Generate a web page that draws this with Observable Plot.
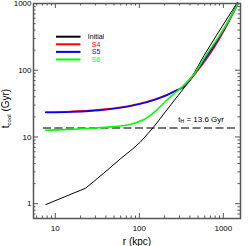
<!DOCTYPE html>
<html><head>
<meta charset="utf-8">
<script src="https://cdn.jsdelivr.net/npm/d3@7"></script>
<script src="https://cdn.jsdelivr.net/npm/@observablehq/plot@0.6"></script>
<style>
body{margin:0;background:#fff;}
svg{font-family:"Liberation Sans",Arial,Helvetica,sans-serif;}
</style>
</head><body><div id="c"></div>
<script>
// ---- data ----
const seriesNames  = ["Initial", "S4", "S5", "S6"];
const seriesColors = ["#000000", "#ff0000", "#0000ff", "#00ff00"];

const rInitial = [7.7, 23, 37.5, 60, 82, 103, 147, 200, 290, 400, 590, 830, 1100, 1470];
const tInitial = [0.97, 1.71, 2.85, 4.75, 6.5, 8.4, 13.9, 23, 42, 70, 167, 335, 585, 1040];

const rS4 = [7.7, 15, 25, 40, 60, 85, 120, 160, 213, 270, 334, 450, 674, 900, 1200, 1500];
const tS4 = [23.6, 24.1, 24.8, 26.1, 27.9, 30.2, 33.3, 37.3, 42.8, 49.5, 56, 85, 167, 299, 578, 1000];

const rS5 = [7.7, 15, 25, 40, 60, 85, 120, 160, 213, 270, 334, 450, 647, 900, 1200, 1480];
const tS5 = [23.2, 23.7, 24.4, 25.6, 27.4, 29.7, 32.8, 36.8, 42.3, 49.2, 56.3, 88, 167, 320, 600, 1000];

const rS6 = [7.7, 15, 30, 50, 70, 85, 100, 120, 140, 160, 192, 230, 279, 350, 450, 621, 900, 1200, 1490];
const tS6 = [12.6, 13.0, 13.6, 14.3, 15.0, 15.9, 17.0, 19.0, 21.8, 25, 31.5, 39, 48, 62, 88, 167, 330, 600, 1000];

const tHubble = 13.6;
const xTickValues = [10, 100, 1000];
const yTickValues = [1, 10, 100, 1000];
const xDomain = [5.5, 1600];
const yDomain = [0.6, 1000];

// ---- build table ----
const seriesR = [rInitial, rS4, rS5, rS6];
const seriesT = [tInitial, tS4, tS5, tS6];
const rows = [];
seriesNames.forEach((s, i) => seriesR[i].forEach((r, j) => rows.push({series: s, r, t: seriesT[i][j]})));

function minorTicks(domain) {
  const out = [];
  for (let e = -1; e <= 3; e++) for (let k = 2; k <= 9; k++) {
    const v = k * Math.pow(10, e);
    if (v > domain[0] && v < domain[1]) out.push(v);
  }
  return out;
}
const xMinor = minorTicks(xDomain), yMinor = minorTicks(yDomain);

const W = 249, H = 246, mL = 33, mR = 9, mT = 3, mB = 28;
const pw = W - mL - mR, ph = H - mT - mB;
const axisCol = "#555";
const majLen = 5, minLen = 2.5;

const lineMarks = seriesNames.map((s, i) => Plot.line(rows.filter(d => d.series === s), {
  x: "r", y: "t", stroke: seriesColors[i], strokeWidth: i === 0 ? 1 : 1.6,
  curve: i === 0 ? "linear" : "monotone-x"
}));

const plot = Plot.plot({
  width: W, height: H, marginLeft: mL, marginRight: mR, marginTop: mT, marginBottom: mB,
  x: {type: "log", domain: xDomain, axis: null},
  y: {type: "log", domain: yDomain, axis: null},
  style: {fontFamily: '"Liberation Sans",Arial,sans-serif', background: "#fff"},
  marks: [
    Plot.ruleY([tHubble], {stroke: "#777", strokeWidth: 2, strokeDasharray: "8,3.5", insetLeft: 10, insetRight: 1.5}),
    ...lineMarks,
    // ticks (inward, all four sides)
    Plot.ruleX(xTickValues, {stroke: axisCol, insetTop: ph - majLen}),
    Plot.ruleX(xTickValues, {stroke: axisCol, insetBottom: ph - majLen}),
    Plot.ruleX(xMinor, {stroke: axisCol, insetTop: ph - minLen}),
    Plot.ruleX(xMinor, {stroke: axisCol, insetBottom: ph - minLen}),
    Plot.ruleY(yTickValues, {stroke: axisCol, insetRight: pw - majLen}),
    Plot.ruleY(yTickValues, {stroke: axisCol, insetLeft: pw - majLen}),
    Plot.ruleY(yMinor, {stroke: axisCol, insetRight: pw - minLen}),
    Plot.ruleY(yMinor, {stroke: axisCol, insetLeft: pw - minLen}),
    Plot.frame({stroke: axisCol, strokeWidth: 1.5}),
    Plot.axisX(xTickValues, {tickSize: 0, tickPadding: 7, fontSize: 8, tickFormat: d => String(d), label: null, fill: "#000"}),
    Plot.axisY(yTickValues, {tickSize: 0, tickPadding: 2, fontSize: 8, tickFormat: d => String(d), label: null, fill: "#000"}),
    Plot.text(["r (kpc)"], {frameAnchor: "bottom", dy: 23.5, fontSize: 10, lineAnchor: "middle", fill: "#000"})
  ]
});

const svg = d3.select(plot);
const ys = plot.scale("y");

// y-axis title with subscript
const yt = svg.append("text")
  .attr("transform", `translate(8.5,${mT + ph / 2 - 2}) rotate(-90)`)
  .attr("text-anchor", "middle").attr("font-size", 10).attr("fill", "#000");
yt.append("tspan").text("t");
yt.append("tspan").attr("font-size", 6).attr("dy", 2).text("cool");
yt.append("tspan").attr("dy", -2).text(" (Gyr)");

// label for the Hubble-time line
const th = svg.append("text")
  .attr("x", W - mR - 16).attr("y", ys.apply(tHubble) - 6)
  .attr("text-anchor", "end").attr("font-size", 8).attr("fill", "#000");
th.append("tspan").text("t");
th.append("tspan").attr("font-size", 5).attr("dy", 1.5).text("H");
th.append("tspan").attr("dy", -1.5).text(" = " + tHubble + " Gyr");

// legend
const lg = svg.append("g");
seriesNames.forEach((s, i) => {
  const y = mT + 33.7 + 7.6 * i;
  lg.append("line").attr("x1", mL + 23).attr("x2", mL + 47.5).attr("y1", y).attr("y2", y)
    .attr("stroke", seriesColors[i]).attr("stroke-width", 2);
  lg.append("text").attr("x", mL + 63).attr("y", y).attr("dy", "0.35em")
    .attr("font-size", 7).attr("fill", seriesColors[i]).text(s);
});

document.getElementById("c").appendChild(plot);
</script>
</body></html>
